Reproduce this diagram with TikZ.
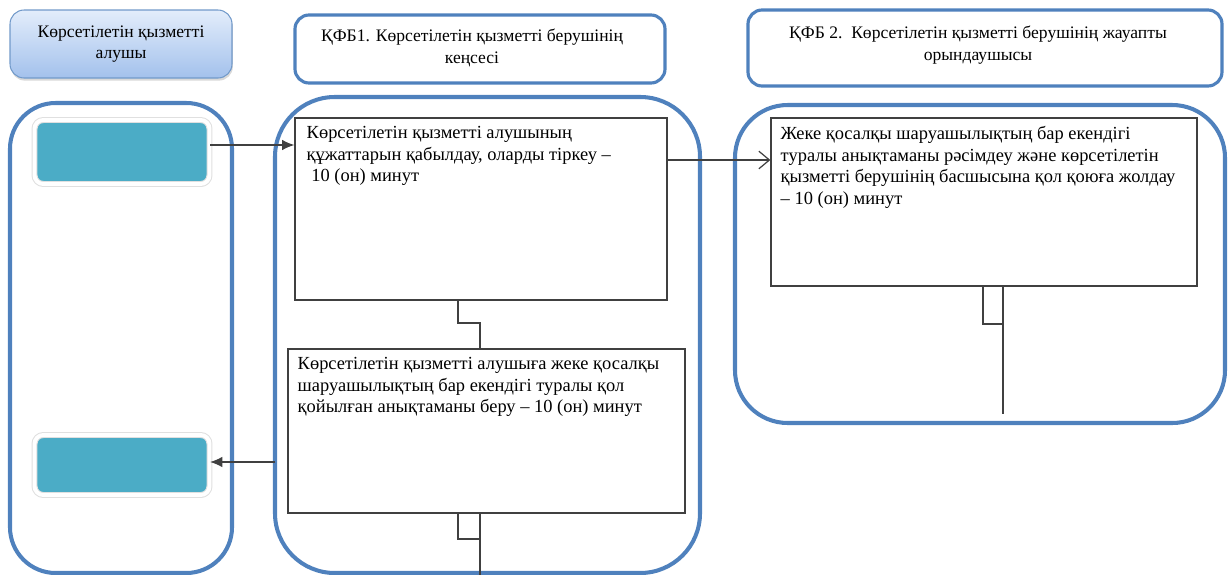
\documentclass[tikz,border=0pt]{standalone}
\usepackage{fontspec}
\setmainfont{Liberation Serif}
\usetikzlibrary{arrows.meta,shadows,calc}
\definecolor{laneblue}{HTML}{4F81BD}
\definecolor{teal}{HTML}{4BACC6}
\definecolor{linegray}{HTML}{404040}
\definecolor{hdrtop}{HTML}{E3EDFB}
\definecolor{hdrbot}{HTML}{A3C1EC}
\begin{document}
\begin{tikzpicture}[x=0.02cm,y=-0.02cm,
  lane/.style={draw=laneblue,line width=2.3pt},
  hdr/.style={draw=laneblue,line width=1.8pt,fill=white,rounded corners=8pt},
  hdrtxt/.style={font=\fontsize{10}{12.4}\selectfont,align=center,inner sep=0pt},
  tealbox/.style={fill=teal,draw=black!12,double=white,double distance=2.2pt,line width=0.6pt,rounded corners=5pt,
     drop shadow={opacity=0.35,shadow xshift=0.6pt,shadow yshift=-1.4pt}},
  pbox/.style={draw=linegray,line width=0.7pt,fill=white},
  txt/.style={font=\fontsize{10.5}{12.2}\selectfont,align=left,inner sep=0pt,anchor=north west},
  conn/.style={draw=linegray,line width=0.7pt},
  arr/.style={conn,-{Latex[length=7pt,width=6pt]}},
  oarr/.style={conn,-{Straight Barb[length=6pt,width=10pt]}}]
\useasboundingbox (0,0) rectangle (1228,575);
% lanes
\draw[lane,rounded corners=26pt] (10,103) rectangle (232,573);
\draw[lane,rounded corners=34pt] (275,97) rectangle (700,573);
\draw[lane,rounded corners=30pt] (735,105) rectangle (1225,423);
% headers
\node[draw=laneblue!80,line width=0.6pt,rounded corners=8pt,top color=hdrtop,bottom color=hdrbot,
  drop shadow={opacity=0.3,shadow xshift=0.5pt,shadow yshift=-1.5pt},
  minimum width=222*0.02cm,minimum height=68*0.02cm,inner sep=0pt] (h1) at (121,44) {};
\node[hdrtxt] at (h1.center) {Көрсетілетін қызметті\\алушы};
\node[hdr,minimum width=370*0.02cm,minimum height=68*0.02cm,inner sep=0pt] (h2) at (480,49) {};
\node[hdrtxt] at (472,48) {ҚФБ1. Көрсетілетін қызметті берушінің\\кеңсесі};
\node[hdr,minimum width=474*0.02cm,minimum height=76*0.02cm,inner sep=0pt] (h3) at (985,48) {};
\node[hdrtxt] at (978,45) {ҚФБ 2.\ \ Көрсетілетін қызметті берушінің жауапты\\орындаушысы};
% teal boxes
\node[tealbox,minimum width=175*0.02cm,minimum height=64*0.02cm,inner sep=0pt] (t1) at (122,152) {};
\node[tealbox,minimum width=175*0.02cm,minimum height=60*0.02cm,inner sep=0pt] (t2) at (122,465) {};
% process boxes
\node[pbox,minimum width=372*0.02cm,minimum height=182*0.02cm,inner sep=0pt] (A) at (481,209) {};
\node[txt] at ([shift={(12,9)}]A.north west) {Көрсетілетін қызметті алушының\\құжаттарын қабылдау, оларды тіркеу –\\\ 10 (он) минут};
\node[pbox,minimum width=397*0.02cm,minimum height=164*0.02cm,inner sep=0pt] (B) at (486.5,431) {};
\node[txt] at ([shift={(10,9)}]B.north west) {Көрсетілетін қызметті алушыға жеке қосалқы\\шаруашылықтың бар екендігі туралы қол\\қойылған анықтаманы беру – 10 (он) минут};
\node[pbox,minimum width=426*0.02cm,minimum height=168*0.02cm,inner sep=0pt] (C) at (984,202) {};
\node[txt] at ([shift={(10,9)}]C.north west) {Жеке қосалқы шаруашылықтың бар екендігі\\туралы анықтаманы рәсімдеу және көрсетілетін\\қызметті берушінің басшысына қол қоюға жолдау\\– 10 (он) минут};
% arrows
\draw[arr] (t1.east |- 0,145) -- (A.west |- 0,145);
\draw[oarr] (A.east |- 0,160) -- (C.west |- 0,160);
\coordinate (bl) at (275,462);
\draw[arr] (bl) -- (t2.east |- bl);
% connectors
\draw[conn] (A.south -| 458,0) -- (458,323) -- (480,323) -- (B.north -| 480,0);
\draw[conn] (B.south -| 458,0) -- (458,539) -- (480,539);
\coordinate (bend) at (480,575);
\draw[conn] (B.south -| 480,0) -- (bend);
\coordinate (cend) at (1003,414);
\draw[conn] (C.south -| 983,0) -- (983,324) -- (1003,324);
\draw[conn] (C.south -| 1003,0) -- (cend);
\end{tikzpicture}
\end{document}
